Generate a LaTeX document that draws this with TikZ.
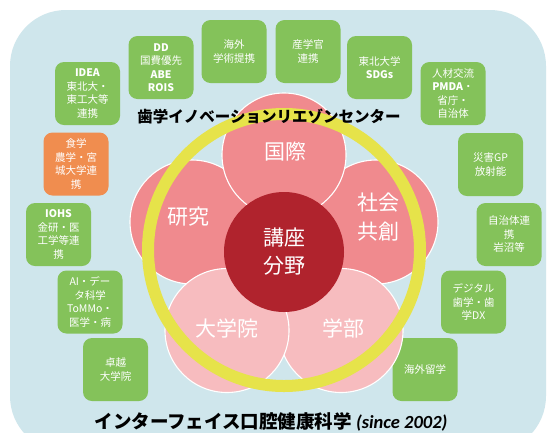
\documentclass[tikz,border=0pt]{standalone}
\usepackage{fontspec}
\setmainfont{Noto Sans CJK JP}
\newfontfamily\latfont{Carlito}
\definecolor{bgblue}{HTML}{CFE6EC}
\definecolor{boxgreen}{HTML}{84C25A}
\definecolor{boxorange}{HTML}{F08D4F}
\definecolor{petalA}{HTML}{F08A8E}
\definecolor{petalB}{HTML}{F7BCBF}
\definecolor{centerred}{HTML}{B0232D}
\definecolor{ringyellow}{HTML}{E6E34A}
\tikzset{
  gbox/.style={fill=boxgreen, rounded corners=9pt, minimum width=65pt, minimum height=63pt,
    text=white, align=center, inner sep=0pt, font=\fontsize{10.5}{13.5}\selectfont},
  obox/.style={gbox, fill=boxorange},
  petal/.style={circle, inner sep=0pt, minimum size=124pt, draw=white, line width=1.1pt,
    text=white, align=center, font=\fontsize{21}{29}\selectfont},
  petalup/.style={petal, fill=petalA},
  petallow/.style={petal, fill=petalB},
}
\begin{document}
\begin{tikzpicture}[x=1pt,y=-1pt]
\useasboundingbox (0,0) rectangle (548,432);
\fill[white] (0,0) rectangle (548,432);
\begin{scope}
  \clip (0,0) rectangle (548,432);
  \fill[bgblue, rounded corners=56pt] (10,10) rectangle (546,452);
\end{scope}

% green boxes
\node[gbox] (b1) at (87.5,93.5) {\textbf{IDEA}\\東北大・\\東工大等\\連携};
\node[gbox] (b2) at (161,67.5) {\textbf{DD}\\国費優先\\\textbf{ABE}\\\textbf{ROIS}};
\node[gbox] (b3) at (234,51.5) {海外\\学術提携};
\node[gbox] (b4) at (308,51.5) {産学官\\連携};
\node[gbox] (b5) at (379.5,67.5) {東北大学\\\textbf{SDGs}};
\node[gbox] (b6) at (453,93.5) {人材交流\\\textbf{PMDA}・\\省庁・\\自治体};
\node[gbox] (b7) at (490.5,164.5) {災害GP\\放射能};
\node[gbox] (b8) at (509,234.5) {自治体連\\携\\岩沼等};
\node[gbox] (b9) at (473.5,302) {デジタル\\歯学・歯\\学DX};
\node[gbox] (b10) at (425,369.5) {海外留学};
\node[gbox] (b11) at (115.5,369.5) {卓越\\大学院};
\node[gbox] (b12) at (90,302) {AI・デー\\タ科学\\ToMMo・\\医学・病};
\node[gbox] (b13) at (58.5,234.5) {\textbf{IOHS}\\金研・医\\工学等連\\携};
\node[obox] (b14) at (76,164) {食学\\農学・宮\\城大学連\\携};

% petals
\node[petalup] (p2) at (192,222) {};
\node[petalup] (p3) at (376,222) {};
\node[petalup] (p1) at (284,155) {};
\node[petallow] (p5) at (341,330.5) {};
\node[petallow] (p4) at (227,330.5) {};

% ring
\node[circle, draw=ringyellow, line width=12pt, minimum size=272pt, inner sep=0pt] (ring) at (284,250) {};

% center
\node[circle, fill=centerred, minimum size=120pt, inner sep=0pt, text=white, align=center,
  font=\fontsize{21}{28}\selectfont] (c) at (284,252) {講座\\分野};

% petal labels
\node[text=white, font=\fontsize{21}{29}\selectfont] (l1) at (285,152) {国際};
\node[text=white, font=\fontsize{21}{29}\selectfont] (l2) at (188,217) {研究};
\node[text=white, align=center, font=\fontsize{21}{29}\selectfont] (l3) at (378,217) {社会\\共創};
\node[text=white, font=\fontsize{21}{29}\selectfont] (l4) at (227,328) {大学院};
\node[text=white, font=\fontsize{21}{29}\selectfont] (l5) at (343,328) {学部};

% titles
\node[font=\bfseries\fontsize{15.5}{18}\selectfont] (t1) at (269,116) {歯学イノベーションリエゾンセンター};
\node[font=\bfseries\fontsize{18.5}{22}\selectfont, inner sep=0pt] (t2) at (271,422) {インターフェイス口腔健康科学 {\latfont\bfseries\itshape (since 2002)}};
\end{tikzpicture}
\end{document}
